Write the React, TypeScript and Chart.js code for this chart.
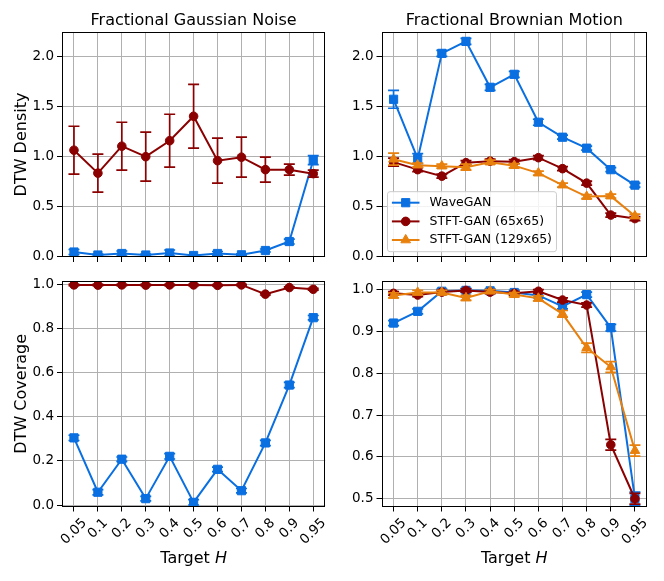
import React, { useEffect, useRef } from 'react';
import { Chart, registerables } from 'chart.js';

Chart.register(...registerables);

const FONT = "'DejaVu Sans', 'Liberation Sans', sans-serif";

// ---------------- data ----------------
const CATEGORIES = ['0.05', '0.1', '0.2', '0.3', '0.4', '0.5', '0.6', '0.7', '0.8', '0.9', '0.95'];

const SERIES_NAMES = ['WaveGAN', 'STFT-GAN (65x65)', 'STFT-GAN (129x65)'];

// Fractional Gaussian Noise – DTW Density
const FGN_DENSITY_WAVEGAN = [0.04, 0.01, 0.025, 0.01, 0.03, 0.005, 0.025, 0.012, 0.055, 0.145, 0.96];
const FGN_DENSITY_WAVEGAN_ERR = [0.025, 0.01, 0.025, 0.01, 0.03, 0.005, 0.02, 0.01, 0.015, 0.025, 0.045];
const FGN_DENSITY_STFT65 = [1.06, 0.83, 1.1, 0.995, 1.155, 1.4, 0.955, 0.99, 0.865, 0.865, 0.825];
const FGN_DENSITY_STFT65_ERR = [0.24, 0.19, 0.24, 0.245, 0.265, 0.32, 0.225, 0.2, 0.125, 0.055, 0.035];

// Fractional Brownian Motion – DTW Density
const FBM_DENSITY_WAVEGAN = [1.57, 0.975, 2.03, 2.15, 1.69, 1.82, 1.34, 1.19, 1.08, 0.865, 0.71];
const FBM_DENSITY_WAVEGAN_ERR = [0.09, 0.05, 0.03, 0.03, 0.03, 0.03, 0.03, 0.02, 0.02, 0.02, 0.02];
const FBM_DENSITY_STFT65 = [0.94, 0.865, 0.8, 0.935, 0.95, 0.945, 0.985, 0.875, 0.73, 0.41, 0.375];
const FBM_DENSITY_STFT65_ERR = [0.04, 0.02, 0.02, 0.02, 0.02, 0.02, 0.02, 0.02, 0.02, 0.02, 0.02];
const FBM_DENSITY_STFT129 = [0.97, 0.91, 0.9, 0.89, 0.94, 0.905, 0.83, 0.71, 0.595, 0.6, 0.4];
const FBM_DENSITY_STFT129_ERR = [0.06, 0.02, 0.02, 0.03, 0.02, 0.02, 0.02, 0.02, 0.02, 0.02, 0.02];

// Fractional Gaussian Noise – DTW Coverage
const FGN_COVERAGE_WAVEGAN = [0.305, 0.058, 0.208, 0.029, 0.221, 0.012, 0.162, 0.065, 0.282, 0.545, 0.851];
const FGN_COVERAGE_WAVEGAN_ERR = [0.012, 0.012, 0.01, 0.01, 0.012, 0.012, 0.01, 0.01, 0.012, 0.012, 0.01];
const FGN_COVERAGE_STFT65 = [1.0, 0.999, 1.0, 0.999, 1.0, 1.0, 0.998, 1.0, 0.958, 0.988, 0.98];
const FGN_COVERAGE_STFT65_ERR = [0.003, 0.003, 0.003, 0.003, 0.003, 0.003, 0.003, 0.003, 0.004, 0.003, 0.004];

// Fractional Brownian Motion – DTW Coverage
const FBM_COVERAGE_WAVEGAN = [0.92, 0.948, 0.996, 0.998, 0.997, 0.993, 0.986, 0.96, 0.988, 0.909, 0.5];
const FBM_COVERAGE_WAVEGAN_ERR = [0.006, 0.006, 0.005, 0.005, 0.005, 0.005, 0.005, 0.006, 0.006, 0.008, 0.016];
const FBM_COVERAGE_STFT65 = [0.991, 0.987, 0.994, 0.998, 0.994, 0.991, 0.996, 0.975, 0.963, 0.629, 0.5];
const FBM_COVERAGE_STFT65_ERR = [0.004, 0.004, 0.004, 0.004, 0.004, 0.004, 0.004, 0.005, 0.005, 0.013, 0.013];
const FBM_COVERAGE_STFT129 = [0.986, 0.993, 0.993, 0.98, 0.996, 0.988, 0.979, 0.942, 0.861, 0.815, 0.615];
const FBM_COVERAGE_STFT129_ERR = [0.006, 0.005, 0.005, 0.006, 0.004, 0.005, 0.006, 0.008, 0.011, 0.013, 0.013];

// tick labels
const DENSITY_TICKS = [0, 0.5, 1.0, 1.5, 2.0];
const FGN_COVERAGE_TICKS = [0, 0.2, 0.4, 0.6, 0.8, 1.0];
const FBM_COVERAGE_TICKS = [0.5, 0.6, 0.7, 0.8, 0.9, 1.0];

const TITLES = ['Fractional Gaussian Noise', 'Fractional Brownian Motion'];
const Y_LABELS = ['DTW Density', 'DTW Coverage'];

// ---------------- styles ----------------
const BLUE = '#0a6fe0';
const RED = '#8b0000';
const ORANGE = '#e8800e';

type PointKind = 'rect' | 'circle' | 'triangle';
type Series = { label: string; data: number[]; err: number[]; color: string; point: PointKind; radius: number };
type PanelSpec = {
  key: string;
  left: number; top: number; width: number; height: number;
  area: { left: number; top: number; right: number; bottom: number };
  yMin: number; yMax: number; yTicks: number[];
  title?: string; yLabel?: string; xLabel?: boolean; xTickLabels?: boolean; legend?: boolean;
  series: Series[];
};

const waveStyle = { color: BLUE, point: 'rect' as PointKind, radius: 5.8 };
const s65Style = { color: RED, point: 'circle' as PointKind, radius: 4.3 };
const s129Style = { color: ORANGE, point: 'triangle' as PointKind, radius: 5.6 };

const PANELS: PanelSpec[] = [
  {
    key: 'tl', left: 0, top: 0, width: 332, height: 270,
    area: { left: 62, top: 32, right: 328, bottom: 257 },
    yMin: -0.01, yMax: 2.244, yTicks: DENSITY_TICKS,
    title: TITLES[0], yLabel: Y_LABELS[0],
    series: [
      { label: SERIES_NAMES[0], data: FGN_DENSITY_WAVEGAN, err: FGN_DENSITY_WAVEGAN_ERR, ...waveStyle },
      { label: SERIES_NAMES[1], data: FGN_DENSITY_STFT65, err: FGN_DENSITY_STFT65_ERR, ...s65Style },
    ],
  },
  {
    key: 'tr', left: 332, top: 0, width: 332, height: 270,
    area: { left: 381.5, top: 32, right: 647, bottom: 257 },
    yMin: -0.01, yMax: 2.244, yTicks: DENSITY_TICKS,
    title: TITLES[1], legend: true,
    series: [
      { label: SERIES_NAMES[0], data: FBM_DENSITY_WAVEGAN, err: FBM_DENSITY_WAVEGAN_ERR, ...waveStyle },
      { label: SERIES_NAMES[1], data: FBM_DENSITY_STFT65, err: FBM_DENSITY_STFT65_ERR, ...s65Style },
      { label: SERIES_NAMES[2], data: FBM_DENSITY_STFT129, err: FBM_DENSITY_STFT129_ERR, ...s129Style },
    ],
  },
  {
    key: 'bl', left: 0, top: 270, width: 332, height: 311,
    area: { left: 62, top: 280.5, right: 328, bottom: 506.5 },
    yMin: -0.0068, yMax: 1.0172, yTicks: FGN_COVERAGE_TICKS,
    yLabel: Y_LABELS[1], xLabel: true, xTickLabels: true,
    series: [
      { label: SERIES_NAMES[0], data: FGN_COVERAGE_WAVEGAN, err: FGN_COVERAGE_WAVEGAN_ERR, ...waveStyle },
      { label: SERIES_NAMES[1], data: FGN_COVERAGE_STFT65, err: FGN_COVERAGE_STFT65_ERR, ...s65Style },
    ],
  },
  {
    key: 'br', left: 332, top: 270, width: 332, height: 311,
    area: { left: 381.5, top: 280.5, right: 647, bottom: 506.5 },
    yMin: 0.4814, yMax: 1.0203, yTicks: FBM_COVERAGE_TICKS,
    xLabel: true, xTickLabels: true,
    series: [
      { label: SERIES_NAMES[0], data: FBM_COVERAGE_WAVEGAN, err: FBM_COVERAGE_WAVEGAN_ERR, ...waveStyle },
      { label: SERIES_NAMES[1], data: FBM_COVERAGE_STFT65, err: FBM_COVERAGE_STFT65_ERR, ...s65Style },
      { label: SERIES_NAMES[2], data: FBM_COVERAGE_STFT129, err: FBM_COVERAGE_STFT129_ERR, ...s129Style },
    ],
  },
];

const TICK_FONT = 13.5;
const LABEL_FONT = 16;
const TITLE_FONT = 16;
const LEGEND_FONT = 12.5;

function drawMarker(ctx: CanvasRenderingContext2D, kind: PointKind, x: number, y: number, r: number, color: string) {
  ctx.save();
  ctx.fillStyle = color;
  ctx.strokeStyle = color;
  ctx.lineWidth = 1;
  ctx.beginPath();
  if (kind === 'rect') {
    const s = r * Math.SQRT1_2;
    ctx.rect(x - s, y - s, 2 * s, 2 * s);
  } else if (kind === 'circle') {
    ctx.arc(x, y, r, 0, Math.PI * 2);
  } else {
    ctx.moveTo(x, y - r);
    ctx.lineTo(x + r * Math.sin((2 * Math.PI) / 3), y - r * Math.cos((2 * Math.PI) / 3));
    ctx.lineTo(x + r * Math.sin((4 * Math.PI) / 3), y - r * Math.cos((4 * Math.PI) / 3));
    ctx.closePath();
  }
  ctx.fill();
  ctx.stroke();
  ctx.restore();
}

const errorBarPlugin = {
  id: 'errorBars',
  beforeDatasetDraw(chart: any, args: any) {
    const ds = chart.data.datasets[args.index];
    const err: number[] | undefined = ds.errors;
    if (!err) return;
    const xs = chart.scales.x;
    const ys = chart.scales.y;
    const ctx: CanvasRenderingContext2D = chart.ctx;
    const ca = chart.chartArea;
    ctx.save();
    ctx.beginPath();
    ctx.rect(ca.left, ca.top, ca.right - ca.left, ca.bottom - ca.top);
    ctx.clip();
    ctx.strokeStyle = ds.borderColor;
    ctx.lineWidth = 1.7;
    const cap = 5.5;
    (ds.data as number[]).forEach((v, i) => {
      const px = xs.getPixelForValue(i);
      const y1 = ys.getPixelForValue(v + err[i]);
      const y2 = ys.getPixelForValue(v - err[i]);
      ctx.beginPath();
      ctx.moveTo(px, y1);
      ctx.lineTo(px, y2);
      ctx.moveTo(px - cap, y1);
      ctx.lineTo(px + cap, y1);
      ctx.moveTo(px - cap, y2);
      ctx.lineTo(px + cap, y2);
      ctx.stroke();
    });
    ctx.restore();
  },
};

function makeDecor(spec: PanelSpec) {
  return {
    id: 'decor_' + spec.key,
    afterDraw(chart: any) {
      const ctx: CanvasRenderingContext2D = chart.ctx;
      const ca = chart.chartArea;
      const oy = spec.top;
      const ox = spec.left;
      ctx.save();

      // frame (spines)
      ctx.strokeStyle = '#000';
      ctx.lineWidth = 1;
      const fl = Math.round(ca.left) + 0.5;
      const ft = Math.round(ca.top) + 0.5;
      const fr = Math.round(ca.right) - 0.5;
      const fb = Math.round(ca.bottom) - 0.5;
      ctx.strokeRect(fl, ft, fr - fl, fb - ft);

      ctx.fillStyle = '#000';

      // title
      if (spec.title) {
        ctx.font = `${TITLE_FONT}px ${FONT}`;
        ctx.textAlign = 'center';
        ctx.textBaseline = 'alphabetic';
        ctx.fillText(spec.title, (ca.left + ca.right) / 2, 25 - oy);
      }

      // y label
      if (spec.yLabel) {
        ctx.save();
        ctx.font = `${LABEL_FONT}px ${FONT}`;
        ctx.translate(25.5 - ox, (ca.top + ca.bottom) / 2);
        ctx.rotate(-Math.PI / 2);
        ctx.textAlign = 'center';
        ctx.textBaseline = 'alphabetic';
        ctx.fillText(spec.yLabel, 0, 0);
        ctx.restore();
      }

      // x tick labels (rotated 45°, bbox centred on tick)
      if (spec.xTickLabels) {
        const xs = chart.scales.x;
        ctx.font = `${TICK_FONT}px ${FONT}`;
        CATEGORIES.forEach((lab, i) => {
          const px = xs.getPixelForValue(i);
          const w = ctx.measureText(lab).width;
          const h = TICK_FONT * 1.1;
          const b = (w + h) * Math.SQRT1_2;
          ctx.save();
          ctx.translate(px, ca.bottom + 9.3 + b / 2);
          ctx.rotate(-Math.PI / 4);
          ctx.textAlign = 'center';
          ctx.textBaseline = 'middle';
          ctx.fillText(lab, 0, 0);
          ctx.restore();
        });
      }

      // x label "Target H"
      if (spec.xLabel) {
        ctx.font = `${LABEL_FONT}px ${FONT}`;
        const w1 = ctx.measureText('Target ').width;
        ctx.font = `italic ${LABEL_FONT}px ${FONT}`;
        const w2 = ctx.measureText('H').width;
        const start = (ca.left + ca.right) / 2 - (w1 + w2) / 2;
        const base = 562.7 - oy;
        ctx.textAlign = 'left';
        ctx.textBaseline = 'alphabetic';
        ctx.font = `${LABEL_FONT}px ${FONT}`;
        ctx.fillText('Target ', start, base);
        ctx.font = `italic ${LABEL_FONT}px ${FONT}`;
        ctx.fillText('H', start + w1, base);
      }

      // legend
      if (spec.legend) {
        ctx.font = `${LEGEND_FONT}px ${FONT}`;
        const maxW = Math.max(...spec.series.map((s) => ctx.measureText(s.label).width));
        const bw = 42 + maxW + 4.5;
        const bh = 60;
        const bx = ca.left + 6;
        const by = ca.bottom - 5.3 - bh;
        const rr = 2.5;
        ctx.beginPath();
        ctx.moveTo(bx + rr, by);
        ctx.lineTo(bx + bw - rr, by);
        ctx.quadraticCurveTo(bx + bw, by, bx + bw, by + rr);
        ctx.lineTo(bx + bw, by + bh - rr);
        ctx.quadraticCurveTo(bx + bw, by + bh, bx + bw - rr, by + bh);
        ctx.lineTo(bx + rr, by + bh);
        ctx.quadraticCurveTo(bx, by + bh, bx, by + bh - rr);
        ctx.lineTo(bx, by + rr);
        ctx.quadraticCurveTo(bx, by, bx + rr, by);
        ctx.closePath();
        ctx.fillStyle = 'rgba(255,255,255,0.85)';
        ctx.fill();
        ctx.strokeStyle = '#cccccc';
        ctx.lineWidth = 1;
        ctx.stroke();
        const rows = [11, 29.7, 48.3];
        spec.series.forEach((s, i) => {
          const ry = by + rows[i];
          ctx.strokeStyle = s.color;
          ctx.lineWidth = 2;
          ctx.beginPath();
          ctx.moveTo(bx + 4.4, ry);
          ctx.lineTo(bx + 32, ry);
          ctx.stroke();
          drawMarker(ctx, s.point, bx + 18.2, ry, s.radius, s.color);
          ctx.fillStyle = '#000';
          ctx.font = `${LEGEND_FONT}px ${FONT}`;
          ctx.textAlign = 'left';
          ctx.textBaseline = 'middle';
          ctx.fillText(s.label, bx + 42, ry);
        });
      }

      ctx.restore();
    },
  };
}

function Panel({ spec }: { spec: PanelSpec }) {
  const ref = useRef<HTMLCanvasElement>(null);
  useEffect(() => {
    const canvas = ref.current;
    if (!canvas) return;
    const yWidth = spec.area.left - spec.left;
    const xHeight = spec.top + spec.height - spec.area.bottom;
    const n = spec.series.length;
    const chart = new Chart(canvas, {
      type: 'line',
      data: {
        labels: CATEGORIES,
        datasets: spec.series.map((s, i) => ({
          label: s.label,
          data: s.data,
          errors: s.err,
          borderColor: s.color,
          backgroundColor: s.color,
          pointBackgroundColor: s.color,
          pointBorderColor: s.color,
          pointBorderWidth: 1,
          pointStyle: s.point,
          pointRadius: s.radius,
          pointHoverRadius: s.radius,
          borderWidth: 2,
          tension: 0,
          fill: false,
          order: n - i,
        })) as any,
      },
      options: {
        animation: false,
        responsive: false,
        maintainAspectRatio: false,
        events: [],
        layout: {
          padding: {
            left: 0,
            top: spec.area.top - spec.top,
            right: spec.left + spec.width - spec.area.right,
            bottom: 0,
          },
        },
        plugins: {
          legend: { display: false },
          tooltip: { enabled: false },
          title: { display: false },
        },
        scales: {
          x: {
            type: 'category',
            offset: true,
            grid: { offset: false, color: '#b0b0b0', lineWidth: 1, tickColor: '#000', tickLength: 5, drawTicks: true },
            border: { display: false },
            ticks: { display: false, autoSkip: false },
            afterFit: (scale: any) => {
              scale.height = xHeight;
            },
          },
          y: {
            type: 'linear',
            min: spec.yMin,
            max: spec.yMax,
            afterBuildTicks: (scale: any) => {
              scale.ticks = spec.yTicks.map((v) => ({ value: v }));
            },
            afterFit: (scale: any) => {
              scale.width = yWidth;
            },
            grid: { color: '#b0b0b0', lineWidth: 1, tickColor: '#000', tickLength: 5, drawTicks: true },
            border: { display: false },
            ticks: {
              color: '#000',
              padding: 3,
              font: { family: FONT, size: TICK_FONT },
              callback: (v: any) => Number(v).toFixed(1),
            },
          },
        },
      } as any,
      plugins: [errorBarPlugin, makeDecor(spec)],
    });
    return () => chart.destroy();
  }, [spec]);
  return (
    <canvas
      ref={ref}
      width={spec.width}
      height={spec.height}
      style={{ position: 'absolute', left: spec.left, top: spec.top, width: spec.width, height: spec.height }}
    />
  );
}

export default function App() {
  return (
    <div style={{ position: 'absolute', left: 0, top: 0, width: 664, height: 581, background: '#fff', overflow: 'hidden' }}>
      {PANELS.map((p) => (
        <Panel key={p.key} spec={p} />
      ))}
    </div>
  );
}
